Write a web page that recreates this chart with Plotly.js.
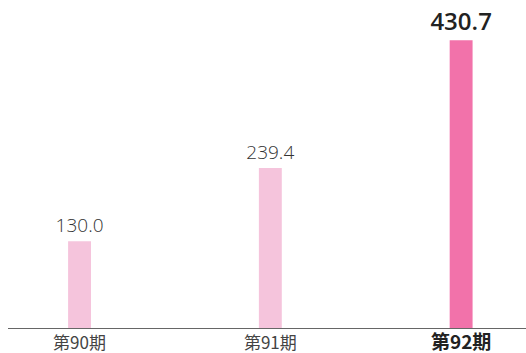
<!DOCTYPE html>
<html>
<head>
<meta charset="utf-8">
<script src="https://cdn.plot.ly/plotly-3.0.1.min.js"></script>
<style>html,body{margin:0;padding:0;background:#fff;}#chart{width:526px;height:353px;}</style>
</head>
<body>
<div id="chart"></div>
<script>
var categories = ["第90期", "第91期", "第92期"];
var tickLabels = ["第90期", "第91期", "<b><span style=\"font-size:19px;color:#222222\">第92期</span></b>"];
var values = [130.0, 239.4, 430.7];
var barColors = ["#f5c4dc", "#f5c4dc", "#f272aa"];

var trace = {
  type: "bar",
  x: categories,
  y: values,
  width: 0.12,
  marker: {color: barColors},
  text: values.map(function(v){ return v.toFixed(1); }),
  textposition: "outside",
  constraintext: "none",
  cliponaxis: false,
  textfont: {
    family: "Open Sans, sans-serif",
    size: [19, 19, 24],
    color: ["#333333", "#333333", "#222222"],
    weight: [300, 300, 600]
  },
  hoverinfo: "none"
};

var layout = {
  width: 526,
  height: 353,
  margin: {l: 8, r: 0, t: 0, b: 25},
  paper_bgcolor: "#ffffff",
  plot_bgcolor: "#ffffff",
  showlegend: false,
  xaxis: {
    type: "category",
    range: [-0.375, 2.34],
    tickvals: categories,
    ticktext: tickLabels,
    showline: true,
    linecolor: "#666666",
    linewidth: 1,
    ticks: "",
    showgrid: false,
    zeroline: false,
    tickfont: {family: "Noto Sans CJK JP, sans-serif", size: 17, color: "#444444"}
  },
  yaxis: {
    range: [0, 491],
    visible: false,
    showgrid: false,
    zeroline: false
  }
};

Plotly.newPlot("chart", [trace], layout, {staticPlot: true, displayModeBar: false});
</script>
</body>
</html>
